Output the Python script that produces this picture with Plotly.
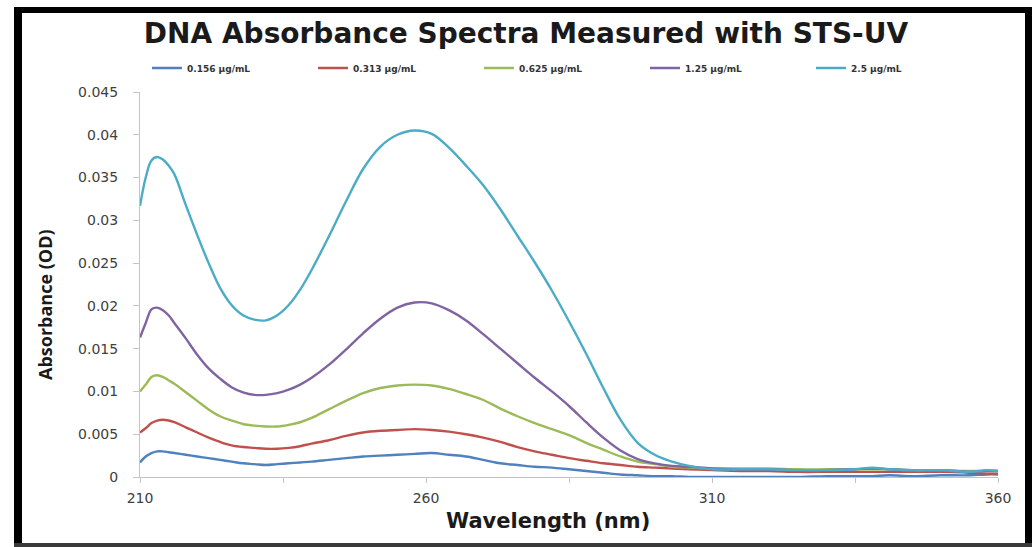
import plotly.graph_objects as go

# ---------------- data ----------------
wavelength = [210, 211, 212, 213, 214, 215, 216, 218, 220, 222, 224, 226, 228, 230, 232, 234,
              236, 238, 240, 243, 246, 249, 252, 255, 258, 261, 264, 267, 270, 273, 276, 279,
              282, 285, 288, 291, 294, 297, 300, 303, 306, 310, 315, 320, 325, 330, 335, 338,
              341, 345, 350, 355, 358, 360]

conc_0156 = [0.0017, 0.0024, 0.0028, 0.0030, 0.0030, 0.0029, 0.0028, 0.0026, 0.0024, 0.0022,
             0.0020, 0.0018, 0.0016, 0.0015, 0.0014, 0.0015, 0.0016, 0.0017, 0.0018, 0.0020,
             0.0022, 0.0024, 0.0025, 0.0026, 0.0027, 0.0028, 0.0026, 0.0024, 0.0020, 0.0016,
             0.0014, 0.0012, 0.0011, 0.0009, 0.0007, 0.0005, 0.0003, 0.0002, 0.0001, 0.0001,
             0.0000, 0.0000, 0.0000, 0.0000, 0.0000, 0.0001, 0.0001, 0.0001, 0.0002, 0.0001,
             0.0002, 0.0002, 0.0003, 0.0003]

conc_0313 = [0.0052, 0.0057, 0.0063, 0.0066, 0.0067, 0.0066, 0.0064, 0.0058, 0.0052, 0.0046,
             0.0041, 0.0037, 0.0035, 0.0034, 0.0033, 0.0033, 0.0034, 0.0036, 0.0039, 0.0043,
             0.0048, 0.0052, 0.0054, 0.0055, 0.0056, 0.0055, 0.0053, 0.0050, 0.0046, 0.0041,
             0.0035, 0.0030, 0.0026, 0.0022, 0.0019, 0.0016, 0.0014, 0.0012, 0.0011, 0.0010,
             0.0009, 0.0008, 0.0007, 0.0007, 0.0006, 0.0006, 0.0006, 0.0006, 0.0006, 0.0006,
             0.0006, 0.0005, 0.0004, 0.0004]

conc_0625 = [0.0100, 0.0108, 0.0117, 0.0119, 0.0117, 0.0113, 0.0109, 0.0099, 0.0089, 0.0079,
             0.0071, 0.0066, 0.0062, 0.0060, 0.0059, 0.0059, 0.0061, 0.0064, 0.0069, 0.0079,
             0.0089, 0.0098, 0.0104, 0.0107, 0.0108, 0.0107, 0.0103, 0.0097, 0.0090, 0.0080,
             0.0071, 0.0063, 0.0056, 0.0049, 0.0040, 0.0032, 0.0024, 0.0018, 0.0015, 0.0012,
             0.0011, 0.0010, 0.0010, 0.0010, 0.0009, 0.0009, 0.0009, 0.0009, 0.0009, 0.0008,
             0.0008, 0.0007, 0.0007, 0.0007]

conc_125 = [0.0163, 0.0180, 0.0196, 0.0198, 0.0195, 0.0189, 0.0180, 0.0162, 0.0143, 0.0127,
            0.0115, 0.0105, 0.0099, 0.0096, 0.0096, 0.0098, 0.0102, 0.0108, 0.0116, 0.0131,
            0.0149, 0.0168, 0.0185, 0.0198, 0.0204, 0.0203, 0.0195, 0.0183, 0.0167, 0.0150,
            0.0133, 0.0116, 0.0100, 0.0083, 0.0064, 0.0046, 0.0031, 0.0021, 0.0016, 0.0013,
            0.0012, 0.0010, 0.0009, 0.0009, 0.0008, 0.0008, 0.0009, 0.0010, 0.0009, 0.0008,
            0.0008, 0.0006, 0.0007, 0.0007]

conc_25 = [0.0317, 0.0350, 0.0370, 0.0374, 0.0371, 0.0364, 0.0354, 0.0318, 0.0283, 0.0250,
           0.0221, 0.0201, 0.0189, 0.0184, 0.0183, 0.0189, 0.0201, 0.0219, 0.0242, 0.0281,
           0.0322, 0.0360, 0.0386, 0.0400, 0.0405, 0.0401, 0.0385, 0.0364, 0.0341, 0.0313,
           0.0282, 0.0251, 0.0218, 0.0182, 0.0144, 0.0104, 0.0067, 0.0040, 0.0026, 0.0018,
           0.0013, 0.0009, 0.0009, 0.0009, 0.0008, 0.0008, 0.0009, 0.0011, 0.0009, 0.0008,
           0.0008, 0.0006, 0.0008, 0.0007]

series_names = ["0.156 µg/mL", "0.313 µg/mL", "0.625 µg/mL", "1.25 µg/mL", "2.5 µg/mL"]
series_values = [conc_0156, conc_0313, conc_0625, conc_125, conc_25]
series_colors = ["#4F81BD", "#C0504D", "#9BBB59", "#8064A2", "#4BACC6"]

x_tick_vals = [210, 235, 260, 285, 310, 335, 360]
x_tick_text = ["210", "", "260", "", "310", "", "360"]
y_tick_vals = [0, 0.005, 0.01, 0.015, 0.02, 0.025, 0.03, 0.035, 0.04, 0.045]
y_tick_text = ["0", "0.005", "0.01", "0.015", "0.02", "0.025", "0.03", "0.035", "0.04", "0.045"]

title_text = "DNA Absorbance Spectra Measured with STS-UV"
x_title = "Wavelength (nm)"
y_title = "Absorbance (OD)"

# ---------------- layout geometry ----------------
W, H = 1032, 547
ML, MR, MT, MB = 140, 34, 92, 70
PW = W - ML - MR
PH = H - MT - MB


def px(x):
    return (x - ML) / PW


def py(y):
    return (H - MB - y) / PH


fig = go.Figure()
for name, vals, col in zip(series_names, series_values, series_colors):
    fig.add_trace(go.Scatter(
        x=wavelength, y=vals, name=name, mode="lines",
        line=dict(color=col, width=2.4, shape="spline", smoothing=1.0),
    ))

axis_grey = "#c4c4c4"
tick_font = dict(family="DejaVu Sans", size=14, color="#404040")

fig.update_layout(
    width=W, height=H,
    margin=dict(l=ML, r=MR, t=MT, b=MB),
    paper_bgcolor="white", plot_bgcolor="white",
    title=dict(text=title_text, x=526 / W, xref="container", xanchor="center",
               y=1 - 33 / H, yref="container", yanchor="middle",
               font=dict(family="DejaVu Sans", size=28, color="#1a1a1a", weight="bold")),
    showlegend=True,
    legend=dict(orientation="h", x=px(147), y=py(68), xanchor="left", yanchor="middle",
                entrywidth=121, entrywidthmode="pixels", itemwidth=30,
                font=dict(family="DejaVu Sans", size=9, color="#333333", weight="bold"),
                bgcolor="rgba(0,0,0,0)", traceorder="normal"),
    xaxis=dict(range=[210, 360], tickvals=x_tick_vals, ticktext=x_tick_text,
               showgrid=False, zeroline=False, showline=True, linecolor=axis_grey, linewidth=1,
               ticks="outside", ticklen=5, tickcolor=axis_grey, tickfont=tick_font,
               ticklabelstandoff=3),
    yaxis=dict(range=[0, 0.045], tickvals=y_tick_vals, ticktext=y_tick_text,
               showgrid=False, zeroline=False, showline=True, linecolor=axis_grey, linewidth=1,
               ticks="outside", ticklen=6, tickcolor=axis_grey, tickfont=tick_font,
               ticklabelstandoff=12),
    annotations=[
        dict(text=x_title, xref="paper", yref="paper", x=px(548), y=py(521),
             xanchor="center", yanchor="middle", showarrow=False,
             font=dict(family="DejaVu Sans", size=21, color="#1a1a1a", weight="bold")),
        dict(text=y_title, xref="paper", yref="paper", x=px(45), y=py(305),
             xanchor="center", yanchor="middle", showarrow=False, textangle=-90,
             font=dict(family="Open Sans", size=18, color="#1a1a1a", weight="bold")),
    ],
    shapes=[
        dict(type="rect", xref="paper", yref="paper", x0=px(14), x1=px(22), y0=py(547), y1=py(7),
             fillcolor="black", line=dict(width=0), layer="above"),
        dict(type="rect", xref="paper", yref="paper", x0=px(14), x1=px(1032), y0=py(13), y1=py(7),
             fillcolor="black", line=dict(width=0), layer="above"),
        dict(type="rect", xref="paper", yref="paper", x0=px(1025), x1=px(1032), y0=py(547), y1=py(7),
             fillcolor="black", line=dict(width=0), layer="above"),
        dict(type="rect", xref="paper", yref="paper", x0=px(14), x1=px(1032), y0=py(547), y1=py(543),
             fillcolor="#3a3a3a", line=dict(width=0), layer="above"),
    ],
)

fig.write_html("out.html", config={"displayModeBar": False},
               post_script="document.body.style.margin='0';")
